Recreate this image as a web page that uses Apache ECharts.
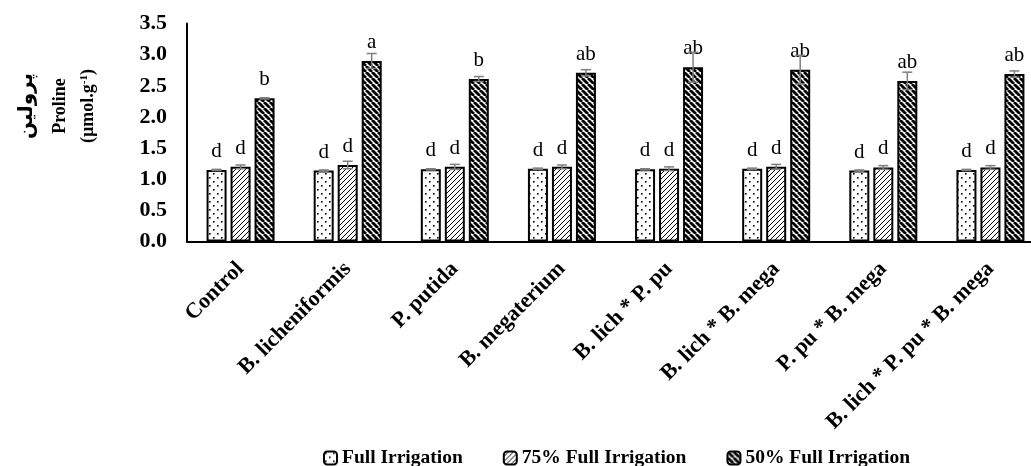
<!DOCTYPE html>
<html><head><meta charset="utf-8">
<script src="https://cdn.jsdelivr.net/npm/echarts@6/dist/echarts.min.js"></script>
<style>html,body{margin:0;padding:0;background:#fff}#c{width:1031px;height:466px}</style>
</head><body><div id="c"></div>
<script>
const categories = ['Control','B. licheniformis','P. putida','B. megaterium','B. lich * P. pu','B. lich * B. mega','P. pu * B. mega','B. lich * P. pu * B. mega'];
const seriesNames = ['Full Irrigation','75% Full Irrigation','50% Full Irrigation'];
const fullIrr = [1.15,1.14,1.16,1.17,1.16,1.17,1.14,1.15];
const irr75 = [1.20,1.23,1.20,1.20,1.17,1.20,1.19,1.19];
const irr50 = [2.30,2.90,2.61,2.71,2.80,2.76,2.58,2.69];
const errFull = [0.01,0.01,0.01,0.01,0.01,0.01,0.01,0.01];
const err75 = [0.03,0.06,0.04,0.03,0.03,0.04,0.03,0.03];
const err50 = [0.01,0.12,0.04,0.05,0.24,0.23,0.14,0.05];
const lettersFull = ['d','d','d','d','d','d','d','d'];
const letters75 = ['d','d','d','d','d','d','d','d'];
const letters50 = ['b','a','b','ab','ab','ab','ab','ab'];
const yTicks = [0,0.5,1,1.5,2,2.5,3,3.5];

function tile(size, draw){const c=document.createElement('canvas');c.width=size;c.height=size;const g=c.getContext('2d');g.fillStyle='#fff';g.fillRect(0,0,size,size);draw(g,size);return c;}
const dotPat = tile(8,(g)=>{g.fillStyle='#000';g.fillRect(1,1,1.6,1.6);g.fillRect(5,5,1.6,1.6);});
const fwdPat = tile(5,(g,s)=>{g.strokeStyle='#000';g.lineWidth=1;for(let k=-1;k<=1;k++){g.beginPath();g.moveTo(k*s,s);g.lineTo(k*s+s,0);g.stroke();}});
const backPat = tile(6,(g,s)=>{g.strokeStyle='#000';g.lineWidth=2.8;for(let k=-1;k<=1;k++){g.beginPath();g.moveTo(k*s,0);g.lineTo(k*s+s,s);g.stroke();}});
const pats = [dotPat,fwdPat,backPat];
const values = [fullIrr,irr75,irr50];
const errs = [errFull,err75,err50];
const letters = [lettersFull,letters75,letters50];

const serif = '"Liberation Serif","Times New Roman",serif';
const BW = 20, GAP = 4;

const barSeries = values.map((vals,i)=>({
  name: seriesNames[i], type:'bar', data: vals, barWidth: BW, barGap: (GAP/BW*100)+'%',
  itemStyle:{color:{image:pats[i],repeat:'repeat'},borderColor:'#000',borderWidth:2},
  label:{show:true,position:'top',distance:8,fontFamily:serif,fontSize:21,color:'#000',
    formatter:(p)=>letters[i][p.dataIndex]},
  z:2
}));
const errSeries = values.map((vals,i)=>({
  type:'custom', name: seriesNames[i]+' err', silent:true, z:5, clip:false,
  data: vals.map((v,j)=>[j,v,errs[i][j]]),
  renderItem:(params,api)=>{
    const x=api.value(0), v=api.value(1), e=api.value(2);
    const top=api.coord([x,v+e]), bot=api.coord([x,v-e]);
    const off=(i-1)*(BW+GAP);
    const cx=top[0]+off, hw=5;
    const st={stroke:'#7f7f7f',lineWidth:1.5};
    return {type:'group',children:[
      {type:'line',shape:{x1:cx,y1:top[1],x2:cx,y2:bot[1]},style:st},
      {type:'line',shape:{x1:cx-hw,y1:top[1],x2:cx+hw,y2:top[1]},style:st},
      {type:'line',shape:{x1:cx-hw,y1:bot[1],x2:cx+hw,y2:bot[1]},style:st}
    ]};
  }
}));

const chart = echarts.init(document.getElementById('c'),null,{renderer:'canvas'});
chart.setOption({
  animation:false,
  backgroundColor:'#fff',
  grid:{left:187,width:857,top:23.6,height:218,containLabel:false,outerBoundsMode:'none'},
  legend:{data:seriesNames,left:318,top:443,itemWidth:13,itemHeight:13,itemGap:40,
    textStyle:{fontFamily:serif,fontWeight:'bold',fontSize:19.5,color:'#000'}},
  xAxis:{type:'category',data:categories,
    axisLine:{lineStyle:{color:'#000',width:2}},axisTick:{show:false},
    axisLabel:{rotate:45,interval:0,margin:24,fontFamily:serif,fontWeight:'bold',fontSize:22,color:'#000'}},
  yAxis:{type:'value',min:0,max:3.5,interval:0.5,
    axisLine:{show:true,lineStyle:{color:'#000',width:2}},axisTick:{show:false},splitLine:{show:false},
    axisLabel:{margin:20,fontFamily:serif,fontWeight:'bold',fontSize:22,color:'#000',
      formatter:(v)=>{const t=yTicks.find(x=>Math.abs(x-v)<1e-9);return (t!==undefined?t:v).toFixed(1);}}},
  graphic:[
    {type:'text',x:27,y:106,rotation:Math.PI/2,style:{text:'پرولین',fontFamily:'"DejaVu Sans",serif',fontWeight:'bold',fontSize:20,fill:'#000',align:'center',verticalAlign:'middle'}},
    {type:'text',x:60,y:106,rotation:Math.PI/2,style:{text:'Proline',fontFamily:serif,fontWeight:'bold',fontSize:18,fill:'#000',align:'center',verticalAlign:'middle'}},
    {type:'text',x:88,y:106,rotation:Math.PI/2,style:{text:'(µmol.g{s|-1})',fontFamily:serif,fontWeight:'bold',fontSize:18,fill:'#000',align:'center',verticalAlign:'middle',
      rich:{s:{fontFamily:serif,fontWeight:'bold',fontSize:11,verticalAlign:'top',padding:[0,0,8,0]}}}}
  ],
  series:[...barSeries,...errSeries]
});
</script></body></html>
